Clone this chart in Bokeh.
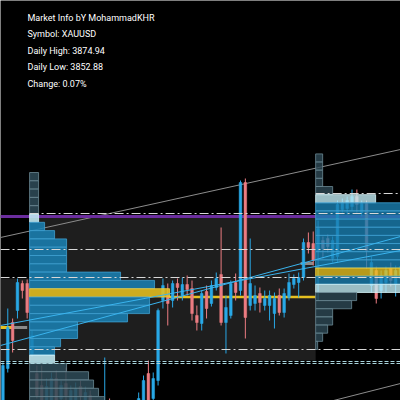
from bokeh.plotting import figure
from bokeh.models import Range1d, Label, ColumnDataSource
from bokeh.embed import file_html
from bokeh.resources import INLINE

# ---------------- data ----------------
info_lines = ["Market Info bY MohammadKHR", "Symbol: XAUUSD", "Daily High: 3874.94",
              "Daily Low: 3852.88", "Change: 0.07%"]

opens = [3859.8, 3863.2, 3867.8, 3869.0, 3871.7, 3871.7, 3864.7, 3862.7, 3861.5, 3859.6,
         3859.8, 3862.2, 3860.2, 3861.7, 3859.8, 3860.0, 3861.4, 3859.5, 3860.5, 3859.2,
         3857.8, 3858.5, 3859.6, 3858.4, 3857.0, 3858.0, 3859.0, 3857.8, 3859.0, 3859.0,
         3862.7, 3860.2, 3862.0, 3870.0, 3870.5, 3870.0, 3871.7, 3870.5, 3871.6, 3871.2,
         3868.5, 3867.7, 3870.9, 3869.7, 3871.3, 3872.6, 3867.8, 3868.5, 3871.8, 3871.0,
         3881.8, 3869.5, 3869.7, 3870.7, 3869.5, 3869.5, 3868.7, 3870.5, 3868.8, 3870.3,
         3871.6, 3871.8, 3872.3, 3875.8, 3875.7, 3875.0, 3876.0, 3876.2, 3874.2, 3874.4,
         3879.1, 3879.2, 3879.4, 3880.4, 3878.8, 3879.7, 3871.5, 3873.0, 3871.0, 3871.8,
         3873.2, 3871.6, 3872.2]
highs = [3863.8, 3869.2, 3868.2, 3872.2, 3872.0, 3872.1, 3867.0, 3863.5, 3863.5, 3862.2,
         3862.8, 3863.0, 3862.0, 3863.3, 3861.5, 3861.8, 3862.0, 3861.4, 3861.0, 3859.8,
         3859.5, 3864.3, 3860.2, 3859.0, 3858.8, 3859.4, 3859.6, 3859.8, 3860.8, 3862.5,
         3864.0, 3862.8, 3869.2, 3872.2, 3871.7, 3872.0, 3872.2, 3872.3, 3872.5, 3872.0,
         3869.5, 3871.0, 3871.5, 3872.0, 3872.8, 3877.3, 3870.5, 3872.0, 3872.7, 3882.0,
         3882.2, 3876.2, 3871.5, 3871.3, 3871.0, 3871.0, 3870.8, 3871.2, 3871.2, 3872.7,
         3872.6, 3872.8, 3876.2, 3876.8, 3876.9, 3878.0, 3876.4, 3876.6, 3876.4, 3880.0,
         3880.2, 3880.4, 3881.1, 3881.1, 3880.0, 3880.0, 3874.4, 3873.4, 3873.0, 3873.4,
         3873.8, 3873.5, 3873.8]
lows = [3859.0, 3862.8, 3864.8, 3868.2, 3870.2, 3868.2, 3864.4, 3860.2, 3859.2, 3859.2,
        3859.4, 3859.4, 3859.7, 3859.8, 3859.4, 3859.5, 3859.8, 3859.0, 3858.5, 3857.5,
        3857.2, 3858.0, 3857.6, 3856.8, 3856.6, 3857.5, 3857.6, 3857.4, 3858.6, 3858.5,
        3859.5, 3859.8, 3861.5, 3869.2, 3867.5, 3869.3, 3870.0, 3870.0, 3870.5, 3868.0,
        3867.0, 3867.0, 3868.2, 3869.4, 3871.0, 3867.5, 3864.7, 3868.2, 3870.0, 3870.5,
        3866.2, 3869.0, 3869.0, 3868.8, 3869.0, 3868.0, 3867.2, 3868.5, 3868.3, 3870.0,
        3871.2, 3870.3, 3872.0, 3874.7, 3873.5, 3870.0, 3874.2, 3874.8, 3873.8, 3873.8,
        3878.8, 3878.6, 3879.0, 3878.8, 3878.4, 3873.2, 3870.8, 3869.7, 3870.2, 3870.8,
        3871.4, 3870.4, 3871.8]
closes = [3863.5, 3867.3, 3866.0, 3871.8, 3871.0, 3868.8, 3866.5, 3860.5, 3859.8, 3861.4,
          3862.2, 3859.8, 3861.5, 3860.5, 3861.0, 3861.2, 3860.4, 3860.8, 3859.0, 3858.0,
          3859.0, 3859.8, 3858.2, 3857.2, 3858.2, 3859.0, 3858.0, 3859.2, 3860.2, 3862.0,
          3860.0, 3862.2, 3869.0, 3871.5, 3869.7, 3871.7, 3871.3, 3871.6, 3871.1, 3868.7,
          3867.8, 3870.7, 3869.2, 3871.5, 3872.2, 3867.8, 3869.3, 3871.7, 3870.8, 3881.8,
          3868.3, 3871.7, 3870.5, 3869.8, 3870.2, 3870.5, 3870.2, 3868.8, 3870.7, 3871.8,
          3872.2, 3872.3, 3875.8, 3875.3, 3874.0, 3877.2, 3875.2, 3875.4, 3876.0, 3879.6,
          3879.8, 3880.0, 3880.4, 3879.6, 3879.7, 3875.0, 3873.8, 3870.2, 3872.5, 3873.0,
          3872.0, 3873.0, 3873.4]

# volume profiles (top price, bin height, volumes top->bottom, key rows)
left_top, left_step = 3882.8, 0.83
left_vol = [9, 9, 9, 9, 9, 9, 15, 25, 37, 37, 37, 37, 91, 125, 140, 120, 120, 98,
            48, 48, 31, 25, 25, 37, 59, 64, 69, 75]
left_vah, left_poc, left_val = 5, 14, 22
right_top, right_step = 3884.66, 0.815
right_vol = [7, 7, 7, 7, 17, 60, 110, 120, 125, 130, 120, 115, 110, 105, 130, 110, 120,
             41, 36, 17, 17, 12, 7, 2]
right_vah, right_poc, right_val = 5, 14, 16

session_starts = [5.5, 64.5]
session_box_top = 3878.4
session_box_bottom = 3864.0
prev_box_top = 3872.2

purple_level = 3878.4
dashdot_levels = [3875.1, 3872.3, 3865.1]
dashed_levels = [3863.9, 3863.7]
vah_left_level = 3878.7
vah_right_level = 3880.7
poc_line_level = 3870.35
prev_poc_level = 3867.3
gray_marker_level = 3873.7

gray_trend = [(-0.5, 3876.3), (82.0, 3885.1)]
gray_trend2 = [(68.2, 3860.0), (82.0, 3861.7)]
blue_trend1 = [(-0.5, 3865.5), (82.0, 3876.4)]
blue_trend2 = [(-0.5, 3867.5), (82.0, 3875.0)]

# ---------------- styles ----------------
BLUE = "#29a8e6"
RED = "#ec7c82"
VOL_SCALE = 1 / 4.85

p = figure(width=400, height=400, x_range=Range1d(-0.5, 82.0), y_range=Range1d(3860, 3900),
           output_backend="svg", toolbar_location=None, background_fill_color="black",
           border_fill_color="black", outline_line_color=None, min_border=0)
p.xaxis.visible = False
p.yaxis.visible = False
p.grid.visible = False

# session boxes
p.quad(left=[-0.5, session_starts[0]], right=[session_starts[0], session_starts[1]],
       top=[prev_box_top, session_box_top], bottom=[session_box_bottom, session_box_bottom],
       fill_color="#1e1e1e", line_color=None)

# gray trend lines
for ln in (gray_trend, gray_trend2):
    p.line([a for a, b in ln], [b for a, b in ln], line_color="#8c8c8c", line_width=1)

# purple level
p.line([-0.5, 82.0], [purple_level, purple_level], line_color="#6b2d9e", line_width=3)

# POC extension lines
p.line([34.1, session_starts[1]], [poc_line_level, poc_line_level], line_color="#e6c020", line_width=2.5)
p.line([-0.5, 2.0], [prev_poc_level, prev_poc_level], line_color="#e6c020", line_width=3)
p.line([2.0, 5.0], [prev_poc_level, prev_poc_level], line_color="#8a8a8a", line_width=3)
p.line([61.4, 64.0], [gray_marker_level, gray_marker_level], line_color="#8a8a8a", line_width=3)

# candles
idx = list(range(len(opens)))
cols = [BLUE if c >= o else RED for o, c in zip(opens, closes)]
src = ColumnDataSource(dict(x=idx, h=highs, l=lows, top=[max(o, c) for o, c in zip(opens, closes)],
                            bot=[min(o, c) for o, c in zip(opens, closes)], c=cols))
p.segment(x0="x", x1="x", y0="l", y1="h", line_color="c", line_width=1, source=src)
p.vbar(x="x", width=0.55, top="top", bottom="bot", fill_color="c", line_color="c",
       line_width=0.5, source=src)


def profile(start, top, step, vols, vah, poc, val, alpha):
    L, R, T, B, F, LC = [], [], [], [], [], []
    for k, v in enumerate(vols):
        L.append(start)
        R.append(start + v * VOL_SCALE)
        T.append(top - k * step)
        B.append(top - (k + 1) * step)
        if k == poc:
            F.append("#e6c020"); LC.append("#f0d040")
        elif k in (vah, val):
            F.append("#c2ecf5"); LC.append("#d8f6fb")
        elif vah < k < val:
            F.append("#1a80b2"); LC.append("#3f9fd0")
        else:
            F.append("#2e4a56"); LC.append("#6a8894")
    p.quad(left=L, right=R, top=T, bottom=B, fill_color=F, line_color=LC,
           fill_alpha=alpha, line_alpha=0.8, line_width=1)


profile(session_starts[0], left_top, left_step, left_vol, left_vah, left_poc, left_val, 0.88)
profile(session_starts[1], right_top, right_step, right_vol, right_vah, right_poc, right_val, 0.8)

# blue trend lines
for ln in (blue_trend1, blue_trend2):
    p.line([a for a, b in ln], [b for a, b in ln], line_color="#3ab4ee", line_width=1)

# dash-dot levels
for lv in dashdot_levels:
    p.line([-0.5, 82.0], [lv, lv], line_color="#d8d8d8", line_width=1, line_dash="9 3 2 3")
p.line([session_starts[0], 82.0], [vah_left_level, vah_left_level], line_color="#d8d8d8",
       line_width=1, line_dash="9 3 2 3")
p.line([session_starts[1], 82.0], [vah_right_level, vah_right_level], line_color="#d8d8d8",
       line_width=1, line_dash="9 3 2 3")
for lv in dashed_levels:
    p.line([-0.5, 82.0], [lv, lv], line_color="#a8d4dc", line_width=1, line_dash="4 2")

# info text
for i, t in enumerate(info_lines):
    p.add_layout(Label(x=27, y=383 - i * 16.6, x_units="screen", y_units="screen", text=t,
                       text_color="white", text_font="Roboto",
                       text_font_size="9px", text_baseline="middle"))

html = file_html(p, INLINE)
html = html.replace("<body>", '<body style="margin:0;background:#000000;">', 1)
open("out.html", "w").write(html)
